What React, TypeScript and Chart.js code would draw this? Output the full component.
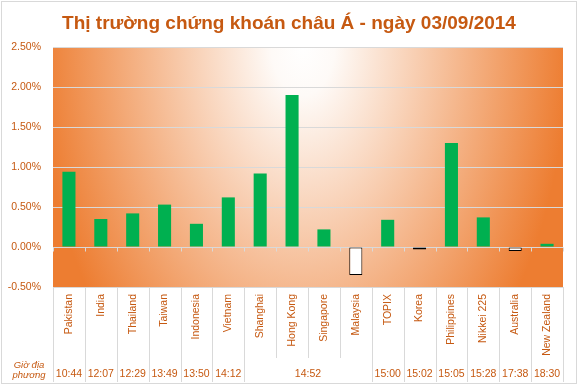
import React, { useEffect, useRef } from "react";
import { Chart, registerables } from "chart.js";

Chart.register(...registerables);

const TITLE = "Thị trường chứng khoán châu Á - ngày 03/09/2014";
const categories = [
  "Pakistan", "India", "Thailand", "Taiwan", "Indonesia", "Vietnam", "Shanghai", "Hong Kong",
  "Singapore", "Malaysia", "TOPIX", "Korea", "Philippines", "Nikkei 225", "Australia", "New Zealand",
];
const changes = [0.94, 0.35, 0.42, 0.53, 0.29, 0.62, 0.92, 1.9, 0.22, -0.35, 0.34, -0.03, 1.3, 0.37, -0.05, 0.04];
const localTimes = ["10:44", "12:07", "12:29", "13:49", "13:50", "14:12", "14:52", "15:00", "15:02", "15:05", "15:28", "17:38", "18:30"];
const timeSpans = [1, 1, 1, 1, 1, 1, 4, 1, 1, 1, 1, 1, 1];
const timeRowLabel = ["Giờ địa", "phương"];
const yMin = -0.5;
const yMax = 2.5;
const yStep = 0.5;

const FONT = "'Liberation Sans', Arial, sans-serif";
const TEXT_COLOR = "#C65911";
const GRID = "#D9D9D9";

const decorPlugin = {
  id: "decor",
  beforeDraw(chart: any) {
    const ctx = chart.ctx as CanvasRenderingContext2D;
    const { left, top, right, bottom } = chart.chartArea;
    ctx.save();
    ctx.fillStyle = "#FFFFFF";
    ctx.fillRect(0, 0, chart.width, chart.height);
    ctx.strokeStyle = GRID;
    ctx.lineWidth = 1;
    ctx.strokeRect(1.5, 1.5, chart.width - 3, chart.height - 3);
    // elliptical radial gradient in plot area
    ctx.beginPath();
    ctx.rect(left, top, right - left, bottom - top);
    ctx.clip();
    const cx = left + (right - left) * 0.49;
    const cy = top - 2;
    const rx = 265;
    const ry = 420;
    ctx.translate(cx, cy);
    ctx.scale(1, ry / rx);
    const g = ctx.createRadialGradient(0, 0, 0, 0, 0, rx);
    g.addColorStop(0, "#FFFFFF");
    g.addColorStop(0.12, "#FEFAF7");
    g.addColorStop(1, "#ED7D31");
    ctx.fillStyle = g;
    ctx.fillRect(-2000, -2000, 4000, 4000);
    ctx.restore();
  },
  afterDraw(chart: any) {
    const ctx = chart.ctx as CanvasRenderingContext2D;
    const { left, right, bottom } = chart.chartArea;
    const xs = chart.scales.x;
    const ys = chart.scales.y;
    const n = categories.length;
    const cw = (right - left) / n;
    const zeroY = Math.round(ys.getPixelForValue(0)) + 0.5;
    const labelTop = bottom + 7;
    const innerEnd = 358;
    const fullEnd = 382;

    ctx.save();
    // title
    ctx.fillStyle = TEXT_COLOR;
    ctx.font = `bold 19px ${FONT}`;
    ctx.textAlign = "center";
    ctx.textBaseline = "alphabetic";
    ctx.fillText(TITLE, chart.width / 2, 29);

    // tick marks under zero line
    ctx.strokeStyle = GRID;
    ctx.lineWidth = 1;
    ctx.beginPath();
    for (let i = 0; i <= n; i++) {
      const x = Math.round(left + i * cw) + 0.5;
      ctx.moveTo(x, zeroY);
      ctx.lineTo(x, zeroY + 4);
    }
    ctx.stroke();

    // separators in label area
    const groupBoundaries = new Set<number>([0, n]);
    let acc = 0;
    timeSpans.forEach((s) => {
      acc += s;
      groupBoundaries.add(acc);
    });
    ctx.beginPath();
    for (let i = 0; i <= n; i++) {
      const x = Math.round(left + i * cw) + 0.5;
      ctx.moveTo(x, bottom);
      ctx.lineTo(x, groupBoundaries.has(i) ? fullEnd : innerEnd);
    }
    ctx.stroke();

    // category labels (rotated)
    ctx.fillStyle = TEXT_COLOR;
    ctx.font = `10.5px ${FONT}`;
    ctx.textAlign = "right";
    ctx.textBaseline = "middle";
    categories.forEach((c, i) => {
      const x = xs.getPixelForValue(i);
      ctx.save();
      ctx.translate(x, labelTop);
      ctx.rotate(-Math.PI / 2);
      ctx.fillText(c, 0, 0);
      ctx.restore();
    });

    // time labels
    ctx.textAlign = "center";
    ctx.textBaseline = "middle";
    ctx.font = `10.5px ${FONT}`;
    let start = 0;
    localTimes.forEach((t, k) => {
      const span = timeSpans[k];
      const x0 = left + start * cw;
      const x1 = left + (start + span) * cw;
      ctx.fillText(t, (x0 + x1) / 2, 374);
      start += span;
    });

    // row header
    ctx.font = `italic 9.5px ${FONT}`;
    ctx.textAlign = "center";
    ctx.fillText(timeRowLabel[0], 29, 365);
    ctx.fillText(timeRowLabel[1], 29, 375);
    ctx.restore();
  },
};

export default function App() {
  const ref = useRef<HTMLCanvasElement | null>(null);
  useEffect(() => {
    if (!ref.current) return;
    const chart = new Chart(ref.current, {
      type: "bar",
      data: {
        labels: categories,
        datasets: [
          {
            data: changes,
            backgroundColor: changes.map((v) => (v < 0 ? "#FFFFFF" : "#00B050")),
            borderColor: changes.map((v) => (v < 0 ? "#000000" : "rgba(0,0,0,0)")),
            borderWidth: changes.map((v) => (v < 0 ? 1 : 0)),
            borderSkipped: false,
            barPercentage: 0.41,
            categoryPercentage: 1,
          },
        ],
      },
      options: {
        responsive: false,
        animation: false,
        devicePixelRatio: 1,
        layout: { padding: { top: 47, bottom: 98, left: 0, right: 15 } },
        plugins: { legend: { display: false }, tooltip: { enabled: false }, title: { display: false } },
        scales: {
          x: { display: false },
          y: {
            min: yMin,
            max: yMax,
            afterFit: (scale: any) => {
              scale.width = 53;
            },
            ticks: {
              stepSize: yStep,
              color: TEXT_COLOR,
              font: { family: FONT, size: 10.5 },
              padding: 12,
              callback: (v: any) => Number(v).toFixed(2) + "%",
            },
            grid: { color: GRID, drawTicks: false },
            border: { display: false },
          },
        },
      },
      plugins: [decorPlugin],
    });
    return () => chart.destroy();
  }, []);
  return (
    <div style={{ position: "fixed", left: 0, top: 0, width: 578, height: 385 }}>
      <canvas ref={ref} width={578} height={385} style={{ display: "block" }} />
    </div>
  );
}
